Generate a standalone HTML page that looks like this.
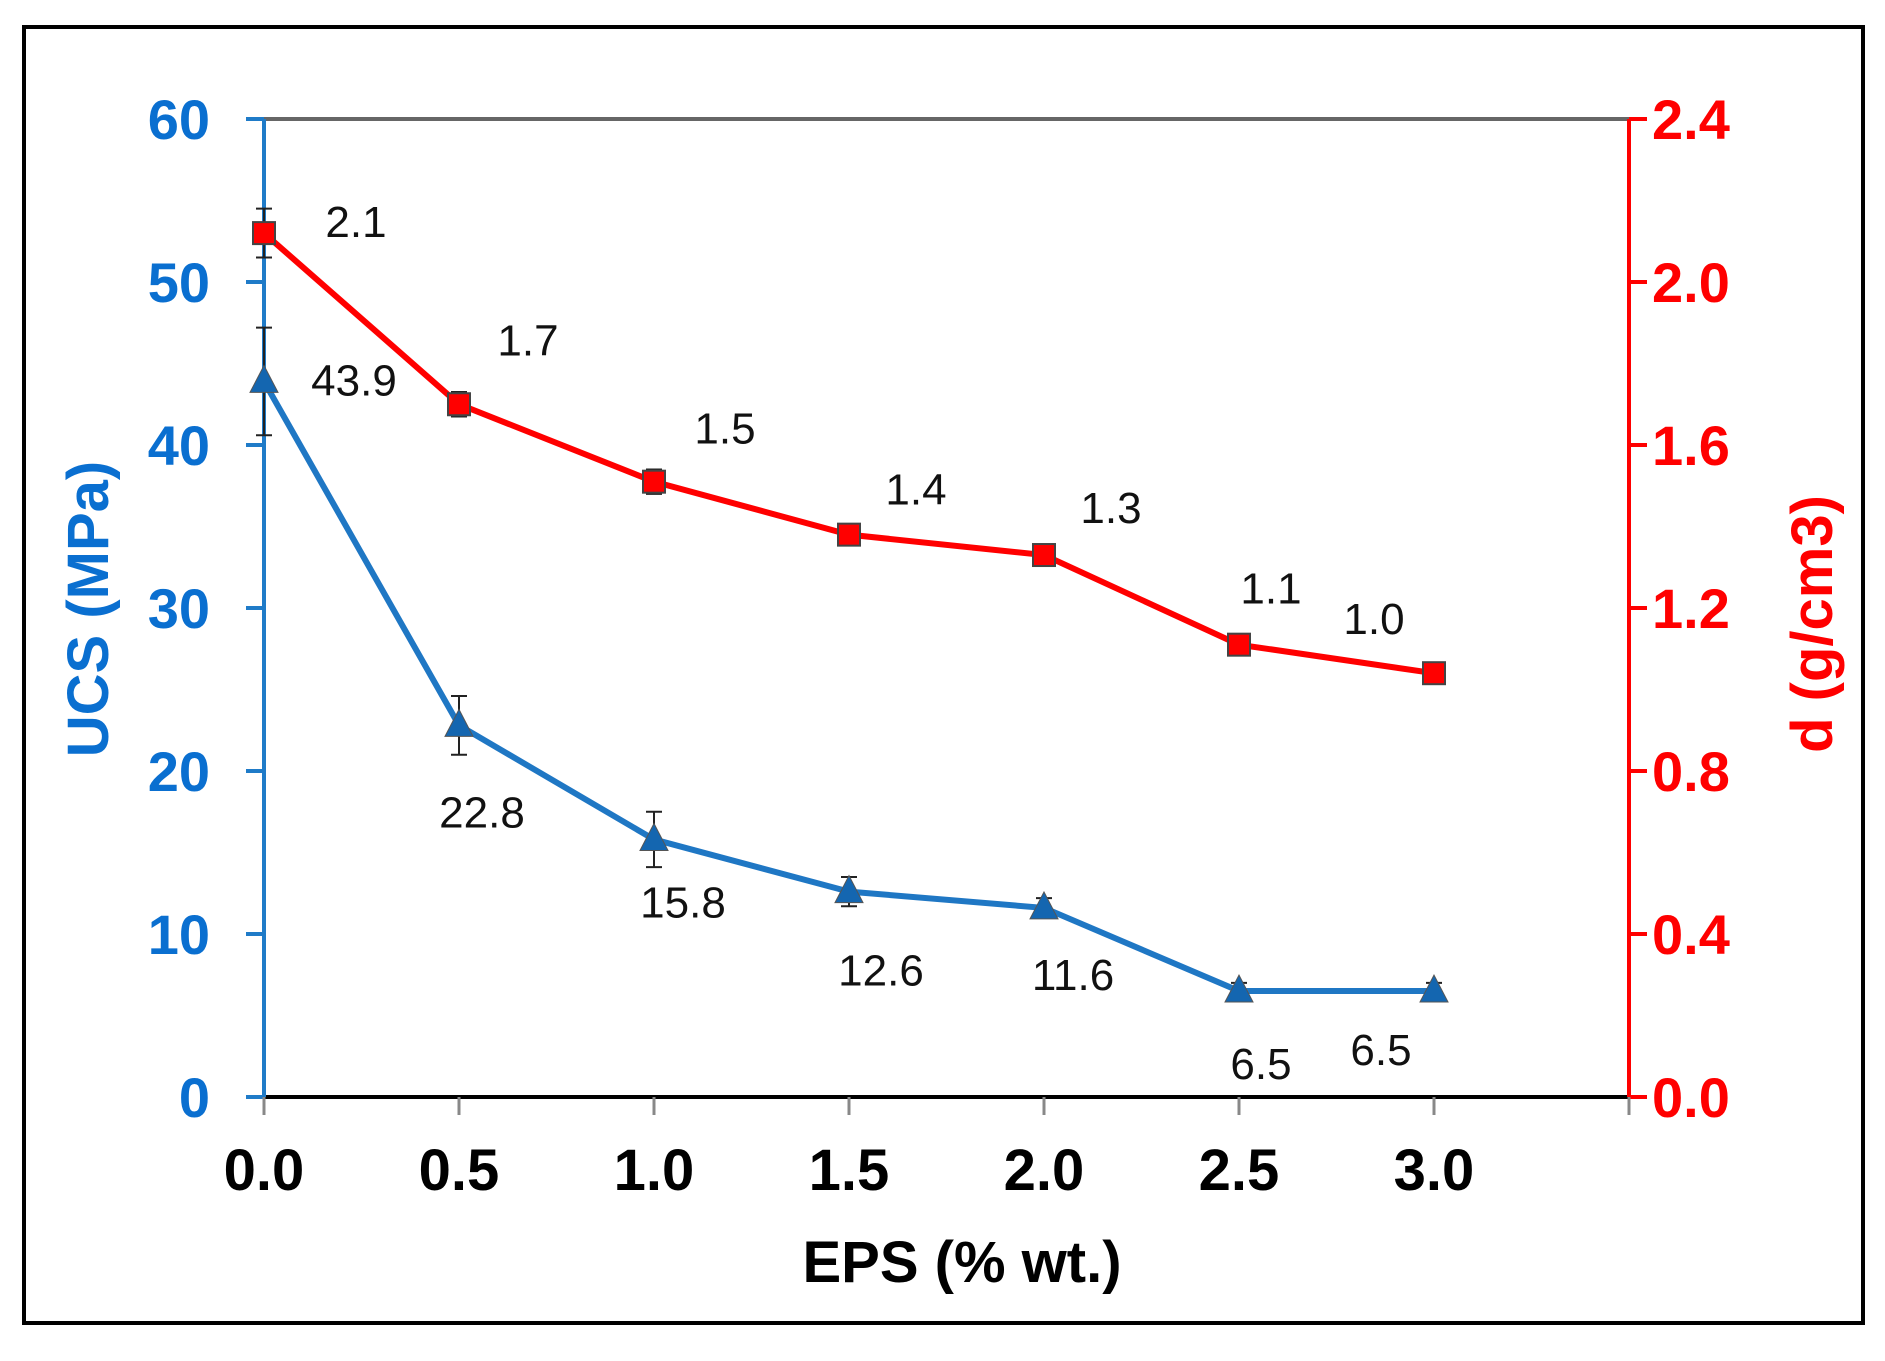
<!DOCTYPE html>
<html><head><meta charset="utf-8"><style>
html,body{margin:0;padding:0;background:#fff;}
svg{display:block;font-family:"Liberation Sans",Arial,sans-serif;}
</style></head><body>
<svg id="chart" width="1885" height="1361" viewBox="0 0 1885 1361" xmlns="http://www.w3.org/2000/svg">
<rect x="24" y="27" width="1839" height="1296" fill="#fff" stroke="#000" stroke-width="4"/>
<g id="g"></g>
</svg>
<script>
const categories=[0,0.5,1.0,1.5,2.0,2.5,3.0];
const xTicks=["0.0","0.5","1.0","1.5","2.0","2.5","3.0"];
const ucsValues=[43.9,22.8,15.8,12.6,11.6,6.5,6.5];
const ucsErrors=[3.3,1.8,1.7,0.9,0.6,0.5,0.5];
const ucsLabels=["43.9","22.8","15.8","12.6","11.6","6.5","6.5"];
const densityValues=[2.12,1.70,1.51,1.38,1.33,1.11,1.04];
const densityErrors=[0.06,0.03,0.03,0.02,0.02,0.02,0.02];
const densityLabels=["2.1","1.7","1.5","1.4","1.3","1.1","1.0"];
const leftTicks=[0,10,20,30,40,50,60];
const rightTicks=["0.0","0.4","0.8","1.2","1.6","2.0","2.4"];
const rightTickValues=[0,0.4,0.8,1.2,1.6,2.0,2.4];

const X0=264,XU=390,Y0=1097,YT=119;
const xs=v=>X0+v*XU;
const yL=v=>Y0-v*(Y0-YT)/60;
const yR=v=>Y0-v*(Y0-YT)/2.4;
const XR=xs(3.5);
const dOff=[[92,-12],[69,-65],[71,-54],[67,-46],[67,-48],[32,-57],[-60,-55]];
const uOff=[[90,-2],[23,86],[29,62],[32,78],[29,66],[22,72],[-53,58]];
const NS="http://www.w3.org/2000/svg";
const g=document.getElementById('g');
function mk(t,a,txt){const e=document.createElementNS(NS,t);for(const k in a)e.setAttribute(k,a[k]);if(txt!==undefined)e.textContent=txt;g.appendChild(e);return e;}

let e=mk('line',{x1:X0,y1:YT,x2:XR,y2:YT,stroke:'#666','stroke-width':4});


e=mk('line',{x1:X0,y1:Y0,x2:XR,y2:Y0,stroke:'#000','stroke-width':4});


e=mk('line',{x1:X0,y1:YT,x2:X0,y2:Y0,stroke:'#1F7BC8','stroke-width':4});


e=mk('line',{x1:XR,y1:YT,x2:XR,y2:Y0,stroke:'#ff0000','stroke-width':4});



leftTicks.forEach(v=>{
  let t=mk('line',{x1:X0-18,y1:yL(v),x2:X0,y2:yL(v),stroke:'#1F7BC8','stroke-width':4});
  
  
  t=mk('text',{x:210,y:yL(v)+20,'text-anchor':'end','font-size':56,'font-weight':'bold',fill:'#0A6FD0'},String(v));
  
  
});
rightTickValues.forEach((v,i)=>{
  let t=mk('line',{x1:XR,y1:yR(v),x2:XR+18,y2:yR(v),stroke:'#ff0000','stroke-width':4});
  
  
  t=mk('text',{x:1652,y:yR(v)+20,'text-anchor':'start','font-size':56,'font-weight':'bold',fill:'#ff0000'},rightTicks[i]);
  
  
});
categories.concat([3.5]).forEach(v=>{
  let t=mk('line',{x1:xs(v),y1:Y0,x2:xs(v),y2:Y0+18,stroke:'#888','stroke-width':3});
  
  
});
categories.forEach((v,i)=>{
  let t=mk('text',{x:xs(v),y:1190,'text-anchor':'middle','font-size':58,'font-weight':'bold',fill:'#000'},xTicks[i]);
  
  
});
e=mk('text',{x:962,y:1282,'text-anchor':'middle','font-size':58,'font-weight':'bold',fill:'#000'},'EPS (% wt.)');


e=mk('text',{x:0,y:0,transform:'translate(108,609) rotate(-90)','text-anchor':'middle','font-size':58,'font-weight':'bold',fill:'#0A6FD0'},'UCS (MPa)');


e=mk('text',{x:0,y:0,transform:'translate(1832,624) rotate(-90)','text-anchor':'middle','font-size':58,'font-weight':'bold',fill:'#ff0000'},'d (g/cm3)');



function errbar(x,yt,yb,name){
  let l=mk('path',{d:`M${x},${yt}V${yb}M${x-8},${yt}H${x+8}M${x-8},${yb}H${x+8}`,stroke:'#222','stroke-width':2,fill:'none'});
  
  
}
ucsValues.forEach((v,i)=>errbar(xs(categories[i]),yL(v+ucsErrors[i]),yL(v-ucsErrors[i]),'ucs-error-bar'));
densityValues.forEach((v,i)=>errbar(xs(categories[i]),yR(v+densityErrors[i]),yR(v-densityErrors[i]),'density-error-bar'));

e=mk('polyline',{points:ucsValues.map((v,i)=>xs(categories[i])+','+yL(v)).join(' '),fill:'none',stroke:'#1F77C4','stroke-width':6});


e=mk('polyline',{points:densityValues.map((v,i)=>xs(categories[i])+','+yR(v)).join(' '),fill:'none',stroke:'#ff0000','stroke-width':6});



ucsValues.forEach((v,i)=>{
  const x=xs(categories[i]),y=yL(v);
  let m=mk('path',{d:`M${x},${y-16}L${x+14},${y+11}L${x-14},${y+11}Z`,fill:'#1466B0',stroke:'#555','stroke-width':1});
  
  
  let t=mk('text',{x:x+uOff[i][0],y:y+uOff[i][1]+16,'text-anchor':'middle','font-size':44,fill:'#111'},ucsLabels[i]);
  
  
});
densityValues.forEach((v,i)=>{
  const x=xs(categories[i]),y=yR(v);
  let m=mk('rect',{x:x-11,y:y-11,width:22,height:22,fill:'#ff0000',stroke:'#444','stroke-width':2});
  
  
  let t=mk('text',{x:x+dOff[i][0],y:y+dOff[i][1]+16,'text-anchor':'middle','font-size':44,fill:'#111'},densityLabels[i]);
  
  
});
</script>
</body></html>
